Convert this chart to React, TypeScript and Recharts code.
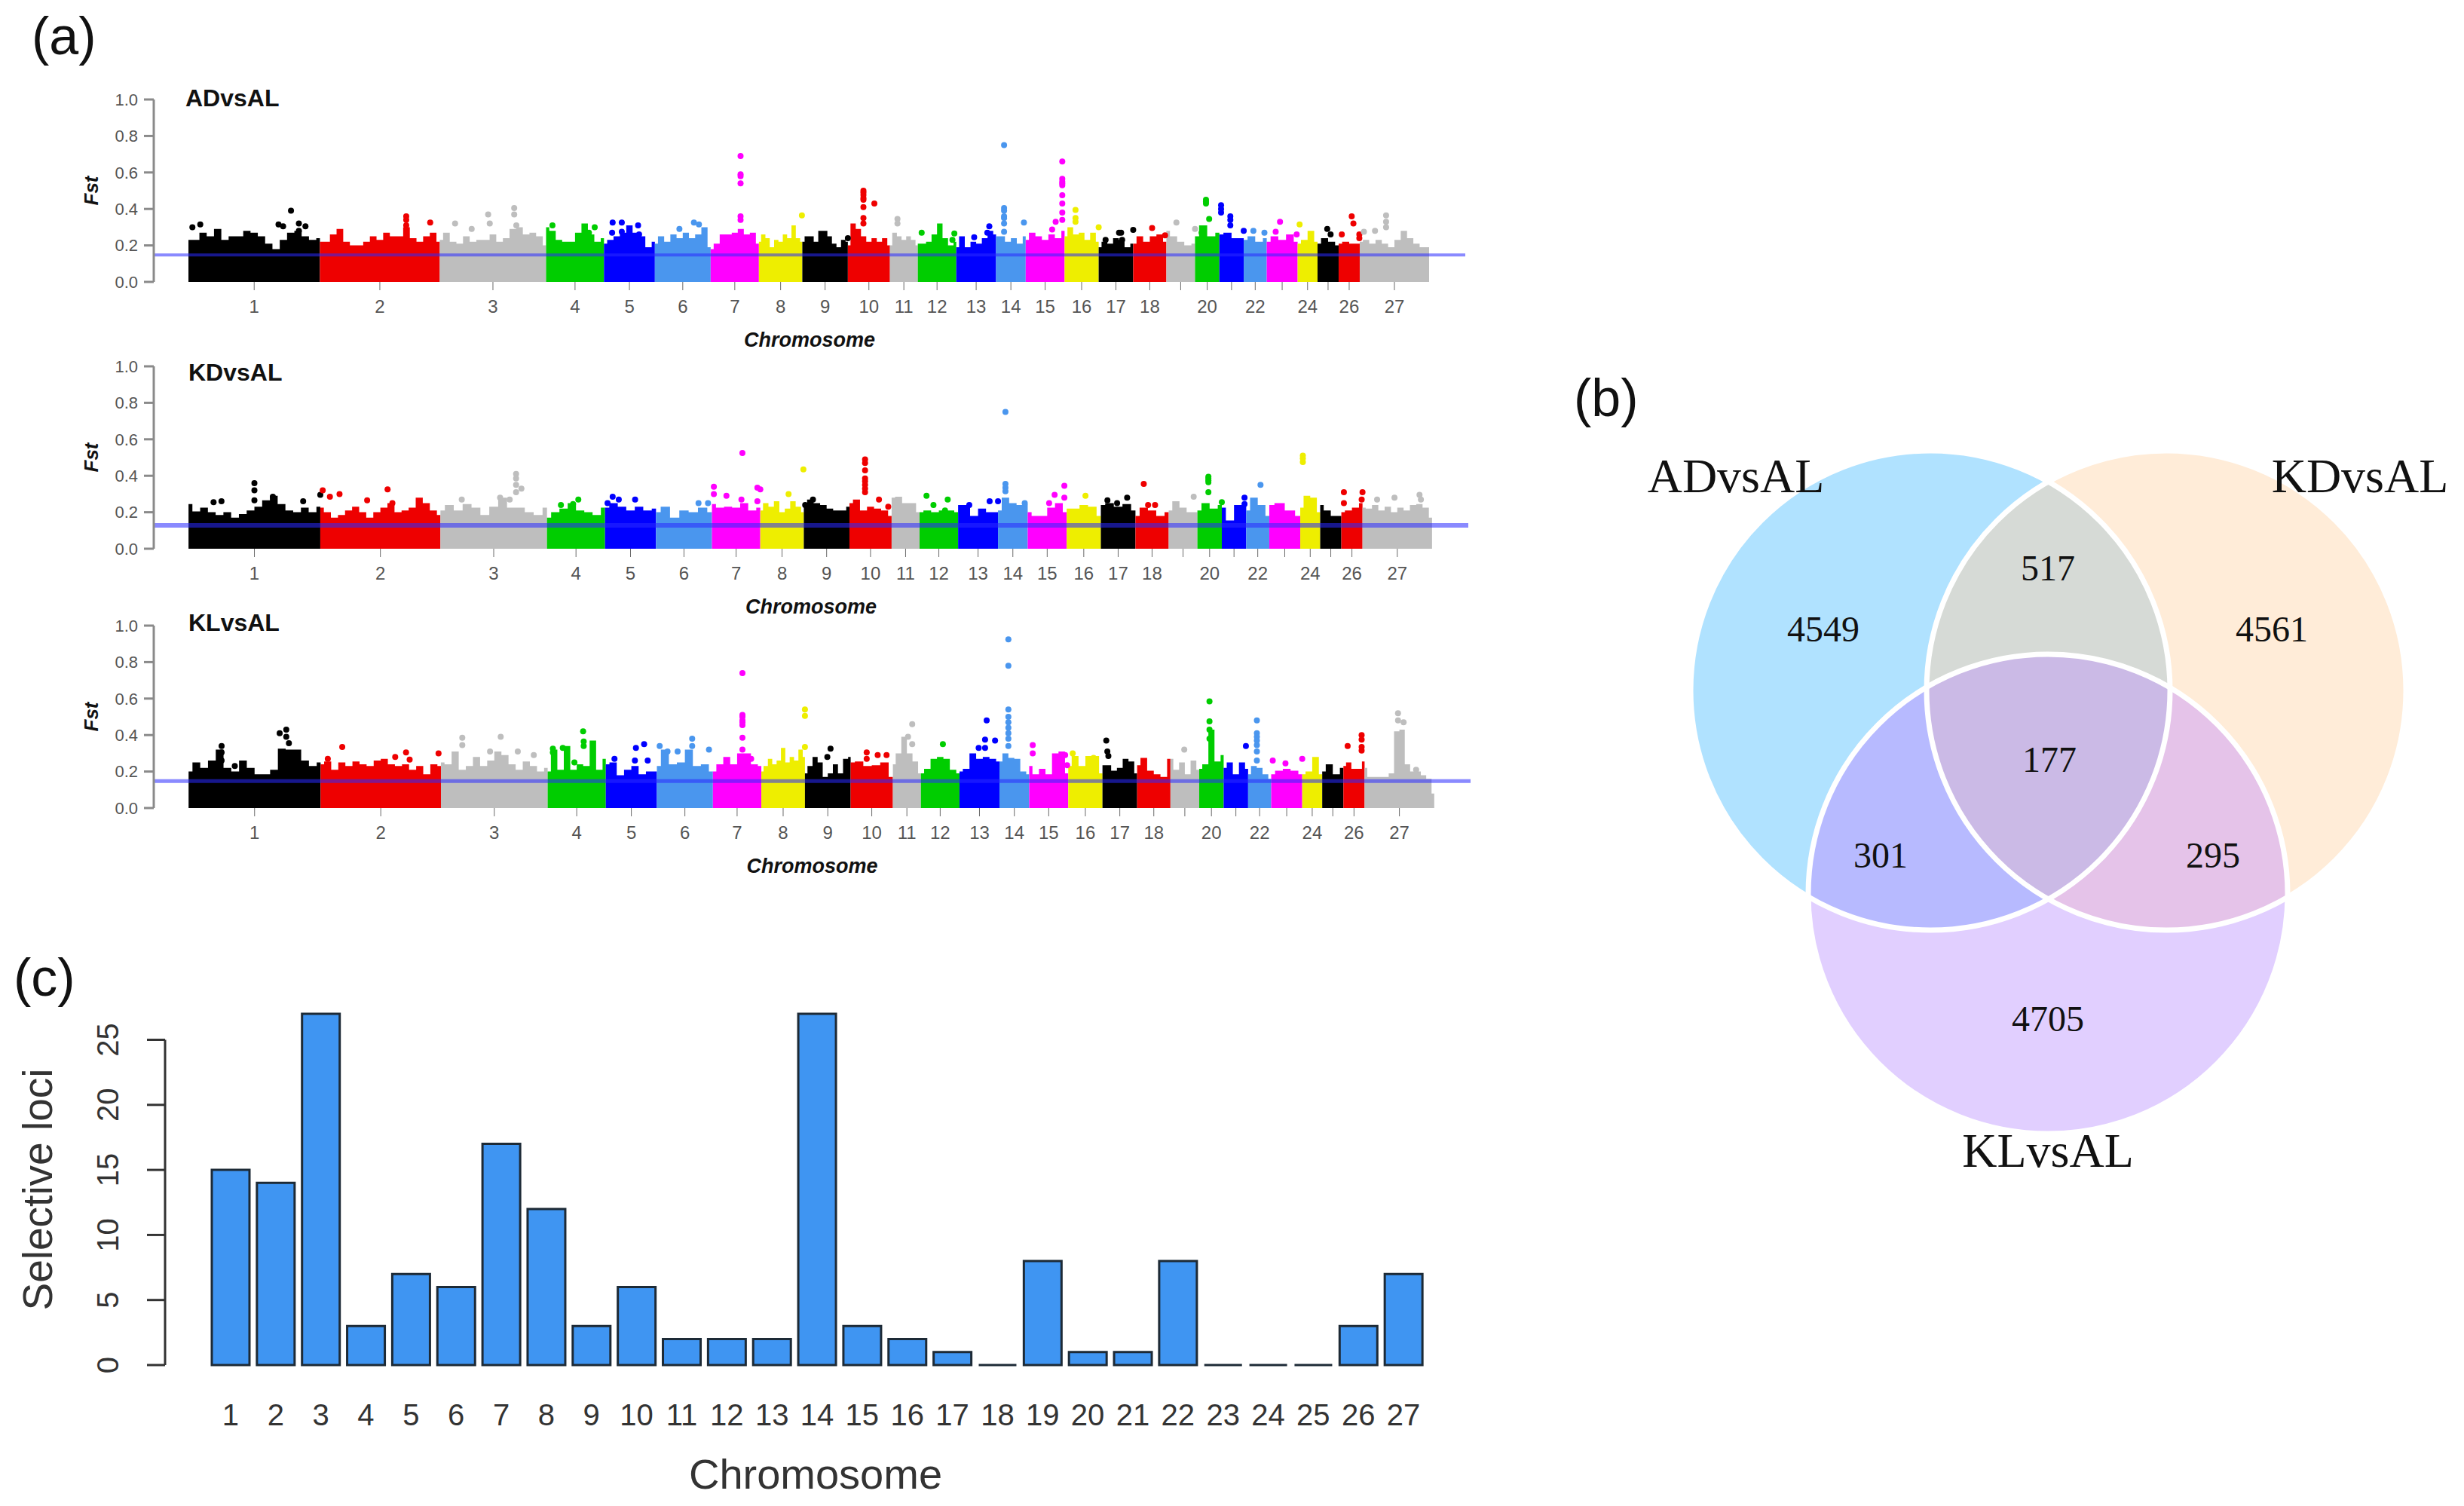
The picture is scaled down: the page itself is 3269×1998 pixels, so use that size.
import {
  Area, Bar, BarChart, ComposedChart, Label, ReferenceLine, Scatter, ScatterChart, XAxis, YAxis,
} from "recharts";

// Chromosome band colours, recycled along the genome like the R plot does
const BAND_COLORS = ["#000000", "#EE0000", "#BEBEBE", "#00CD00", "#0000FF", "#4A96EE", "#FF00FF", "#EEEE00"];

const chromNames = Array.from({ length: 27 }, (_, i) => i + 1);
const chromLengths = [174.4, 159, 141, 76.8, 67.5, 74, 64, 57.6, 60.4, 55.8, 37, 51, 52.8, 39.3, 51.6, 45.2, 45.8, 44, 38, 32.3, 32.3, 30.5, 41, 26.4, 28, 28, 92];
const unlabelledChroms = [19, 21, 23, 25];

// Upper edge of the dense Fst cloud, read along each chromosome
const adEnvelope = [
  [.23, .23, .27, .25, .29, .23, .25, .25, .28, .27, .25, .21, .18, .23, .27, .28, .25, .23, .24],
  [.22, .22, .26, .29, .22, .2, .2, .22, .25, .23, .27, .25, .25, .3, .24, .22, .25, .27, .22],
  [.23, .27, .22, .21, .25, .22, .23, .23, .26, .22, .24, .29, .3, .26, .27, .25, .2],
  [.3, .28, .23, .22, .22, .27, .32, .26, .22, .24],
  [.21, .23, .25, .27, .31, .27, .25, .19, .22],
  [.21, .25, .22, .26, .24, .27, .24, .26, .3, .19],
  [.18, .21, .26, .26, .27, .29, .26, .27, .21],
  [.22, .26, .24, .19, .23, .22, .26, .24, .31, .24, .22],
  [.22, .25, .25, .22, .28, .28, .25, .21, .19, .23, .22],
  [.2, .32, .29, .25, .22, .24, .22, .24, .2],
  [.2, .27, .25, .23, .25, .23, .2],
  [.21, .21, .22, .26, .32, .24, .2, .22],
  [.19, .25, .19, .22, .21, .24, .28, .26],
  [.25, .25, .22, .24, .21, .25],
  [.23, .27, .25, .23, .26, .24, .28],
  [.25, .3, .26, .27, .23, .27, .22],
  [.19, .22, .21, .24, .23, .19, .21],
  [.21, .25, .22, .25, .26, .22],
  [.28, .25, .22, .2, .21],
  [.25, .31, .25, .27],
  [.26, .27, .24, .24],
  [.23, .25, .22, .24],
  [.22, .25, .23, .26, .22],
  [.21, .23, .28, .22],
  [.21, .24, .22, .2],
  [.21, .22, .21, .21],
  [.22, .23, .21, .23, .21, .19, .23, .28, .24, .21, .19, .19],
];

const kdEnvelope = [
  [.245, .205, .225, .2, .185, .2, .17, .19, .21, .23, .265, .29, .245, .21, .2, .225, .2, .23],
  [.225, .2, .17, .185, .21, .23, .2, .17, .2, .225, .25, .2, .21, .225, .28, .25, .21, .185],
  [.21, .24, .21, .245, .225, .185, .23, .28, .225, .225, .2, .185, .225],
  [.17, .2, .22, .25, .21, .2, .185, .225],
  [.225, .25, .23, .21, .23, .21, .22],
  [.2, .23, .17, .21, .2, .225, .2],
  [.245, .225, .23, .225, .25, .21, .225],
  [.21, .25, .23, .26, .2, .22, .26, .23, .2],
  [.23, .27, .25, .24, .22, .21, .21, .23],
  [.25, .27, .21, .23, .22, .21, .18],
  [.28, .285, .25, .25, .2],
  [.2, .21, .2, .21, .21, .2],
  [.24, .24, .18, .22, .2, .2],
  [.21, .28, .25, .24, .245],
  [.2, .18, .18, .225, .25, .2],
  [.22, .22, .24, .23, .18],
  [.24, .25, .23, .245, .21],
  [.18, .225, .21, .18, .2],
  [.21, .26, .225, .2, .2],
  [.21, .25, .22, .24],
  [.225, .155, .24, .24],
  [.21, .28, .24, .18],
  [.24, .25, .21, .18],
  [.225, .29, .28, .2],
  [.24, .21, .18, .18],
  [.2, .21, .225, .25],
  [.225, .22, .24, .21, .23, .2, .225, .21, .24, .245, .225, .17],
];

const klEnvelope = [
  [.2, .25, .22, .26, .32, .22, .2, .26, .22, .185, .185, .21, .325, .32, .32, .26, .23, .25],
  [.24, .255, .21, .25, .23, .255, .24, .23, .26, .27, .24, .23, .24, .21, .23, .185, .24, .23],
  [.25, .24, .31, .21, .23, .28, .23, .26, .31, .29, .24, .21, .255, .23, .2, .22],
  [.2, .32, .21, .34, .21, .24, .23, .37, .21, .27],
  [.24, .25, .18, .21, .23, .185, .2, .2],
  [.23, .32, .24, .25, .32, .23, .24, .2],
  [.2, .24, .28, .24, .3, .3, .24, .23],
  [.2, .23, .27, .24, .26, .33, .25, .28, .26, .32, .28],
  [.19, .23, .28, .25, .17, .19, .24, .19, .27, .28],
  [.25, .255, .23, .235, .25, .17],
  [.24, .3, .39, .3, .255, .19],
  [.19, .215, .27, .28, .27, .21, .19],
  [.2, .215, .3, .27, .28, .27, .255],
  [.255, .3, .275, .27, .2, .185],
  [.23, .185, .215, .185, .3, .31, .19],
  [.23, .285, .23, .285, .285, .19],
  [.235, .235, .205, .22, .27, .255, .19],
  [.235, .275, .205, .185, .17, .27],
  [.27, .21, .25, .185, .26, .21],
  [.215, .24, .43, .255, .29],
  [.22, .25, .185, .25, .215],
  [.185, .23, .22, .185, .16],
  [.185, .205, .215, .205, .185],
  [.185, .2, .28, .185],
  [.2, .24, .185, .22],
  [.23, .25, .215, .215, .255],
  [.22, .17, .17, .17, .17, .19, .42, .43, .24, .2, .2, .18, .16, .08],
];

// Loci standing clear of the cloud: [chromosome, fraction along it, Fst]
const adPeaks = [
  [1, .03, .3], [1, .09, .315], [1, .78, .39], [1, .685, .315], [1, .72, .305], [1, .84, .32], [1, .89, .305], [1, .84, .28],
  [2, .72, .36], [2, .72, .34], [2, .92, .325], [2, .72, .31],
  [3, .144, .32], [3, .3, .29], [3, .455, .37], [3, .47, .32], [3, .7, .405], [3, .7, .37], [3, .72, .31],
  [4, .84, .3], [4, .74, .27], [4, .11, .31],
  [5, .17, .325], [5, .35, .325], [5, .67, .31], [5, .16, .27], [5, .35, .275], [5, .69, .26],
  [6, .44, .29], [6, .7, .325], [6, .79, .315],
  [7, .62, .69], [7, .62, .59], [7, .62, .58], [7, .62, .54], [7, .62, .36], [7, .62, .34],
  [8, .99, .365],
  [9, 1, .24],
  [10, .37, .5], [10, .37, .49], [10, .37, .476], [10, .37, .46], [10, .37, .45], [10, .37, .41], [10, .37, .35], [10, .37, .32], [10, .63, .43],
  [11, .27, .345], [11, .27, .32],
  [12, .1, .27], [12, .95, .265], [12, .9, .23],
  [13, .45, .245], [13, .83, .305], [13, .78, .27],
  [14, .27, .75], [14, .27, .405], [14, .27, .39], [14, .27, .36], [14, .27, .35], [14, .27, .32], [14, .27, .275], [14, .94, .325],
  [15, .94, .66], [15, .94, .565], [15, .94, .55], [15, .94, .54], [15, .94, .53], [15, .94, .475], [15, .94, .43], [15, .94, .38], [15, .94, .34], [15, .77, .33], [15, .68, .287],
  [16, .32, .395], [16, .32, .35], [16, .32, .33], [16, 1, .3],
  [17, .2, .23], [17, .59, .27], [17, .65, .27], [17, .68, .23], [17, 1, .285],
  [18, .57, .295], [18, .96, .255],
  [19, .35, .325], [19, 1, .29],
  [20, .45, .45], [20, .45, .44], [20, .45, .43], [20, .58, .345], [20, .27, .27],
  [21, .07, .42], [21, .07, .4], [21, .07, .38], [21, .45, .36], [21, .45, .34], [21, .45, .31], [21, 1, .28],
  [22, .42, .28], [22, .9, .27],
  [23, .43, .33], [23, .29, .275], [23, .97, .26],
  [24, .1, .315],
  [25, .46, .29], [25, .62, .26],
  [26, .62, .36], [26, .7, .32], [26, .15, .26], [26, .98, .26], [26, .98, .24],
  [27, .38, .365], [27, .38, .33], [27, .38, .3], [27, .22, .28], [27, .06, .275],
];

const kdPeaks = [
  [1, .5, .36], [1, .5, .32], [1, .5, .265], [1, .19, .255], [1, .25, .26], [1, .87, .26], [1, 1, .295], [1, .64, .285],
  [2, .02, .32], [2, .08, .285], [2, .16, .3], [2, .56, .325], [2, .39, .265], [2, .6, .25],
  [3, .71, .41], [3, .71, .385], [3, .71, .35], [3, .71, .31], [3, .76, .33], [3, .2, .27], [3, .65, .27], [3, .56, .28],
  [4, .54, .27], [4, .24, .24], [4, .45, .245],
  [5, .15, .285], [5, .27, .27], [5, .59, .27], [5, .05, .25],
  [6, .76, .25], [6, .93, .25],
  [7, .63, .525], [7, .04, .34], [7, .04, .3], [7, .3, .29], [7, .61, .27], [7, .94, .335], [7, 1, .325], [7, .94, .26],
  [8, .99, .435], [8, .65, .3],
  [9, .2, .27], [9, .03, .24],
  [10, .37, .49], [10, .37, .47], [10, .37, .43], [10, .37, .385], [10, .37, .37], [10, .37, .35], [10, .37, .33], [10, .37, .31], [10, .7, .27], [10, .92, .23],
  [12, .18, .29], [12, .36, .24], [12, .73, .27], [12, .66, .21],
  [13, .79, .26], [13, 1, .26], [13, .28, .24],
  [14, .25, .75], [14, .25, .355], [14, .25, .335], [14, .25, .315], [14, .9, .25],
  [15, .94, .345], [15, .69, .295], [15, .94, .28], [15, .55, .25],
  [16, .55, .29],
  [17, .76, .28], [17, .19, .265], [17, .47, .25],
  [18, .25, .355], [18, .38, .24], [18, .59, .24],
  [19, .87, .285],
  [20, .45, .395], [20, .45, .385], [20, .45, .375], [20, .45, .365], [20, .45, .31], [20, 1, .255],
  [21, .93, .28], [21, .93, .245],
  [22, .62, .35],
  [24, .13, .51], [24, .13, .495], [24, .13, .475],
  [26, .12, .31], [26, 1, .31], [26, .12, .25], [26, .96, .27],
  [27, .82, .295], [27, .46, .28], [27, .21, .27], [27, .84, .27],
];

const klPeaks = [
  [1, .25, .34], [1, .25, .305], [1, .25, .26], [1, .69, .41], [1, .74, .43], [1, .74, .39], [1, .76, .355], [1, .35, .23],
  [2, .18, .335], [2, .06, .27], [2, .71, .305], [2, .98, .3], [2, .62, .28], [2, .74, .265],
  [3, .2, .385], [3, .56, .39], [3, .2, .345], [3, .46, .31], [3, .72, .31], [3, .87, .29],
  [4, .61, .42], [4, .09, .325], [4, .09, .305], [4, .26, .33], [4, .62, .365], [4, .62, .34], [4, .46, .25],
  [5, .59, .33], [5, .75, .35], [5, .57, .26], [5, .82, .26], [5, .17, .27],
  [6, .05, .34], [6, .63, .38], [6, .63, .34], [6, .93, .32], [6, .19, .31], [6, .37, .31],
  [7, .61, .74], [7, .61, .51], [7, .61, .5], [7, .61, .48], [7, .61, .47], [7, .61, .455], [7, .61, .385], [7, .61, .32], [7, .79, .27],
  [8, 1, .54], [8, 1, .505], [8, 1, .335],
  [9, .56, .325], [9, .49, .28],
  [10, .38, .305], [10, .64, .29], [10, .85, .29], [10, .38, .27],
  [11, .69, .46], [11, .54, .39], [11, .69, .35],
  [12, .57, .35],
  [13, .68, .48], [13, .64, .375], [13, .89, .37], [13, .48, .33], [13, .64, .33],
  [14, .3, .925], [14, .3, .78], [14, .3, .54], [14, .3, .5], [14, .3, .47], [14, .3, .44], [14, .3, .41], [14, .3, .38], [14, .3, .34],
  [15, .09, .345], [15, .09, .3], [15, .92, .29], [15, .97, .235],
  [16, .13, .3], [16, .74, .275],
  [17, .11, .37], [17, .14, .31], [17, .17, .285],
  [19, .48, .32],
  [20, .42, .585], [20, .42, .475], [20, .42, .43], [20, .42, .38],
  [21, .91, .34],
  [22, .38, .48], [22, .38, .41], [22, .38, .39], [22, .38, .37], [22, .38, .345], [22, .38, .31], [22, .38, .26],
  [23, .05, .26], [23, .46, .245], [23, 1, .27],
  [26, .2, .34], [26, .86, .4], [26, .86, .375], [26, .86, .335], [26, .86, .315],
  [27, .48, .52], [27, .48, .48], [27, .56, .47], [27, .74, .21],
];

// Panel (c)
const selectiveLoci = [15, 14, 27, 3, 7, 6, 17, 12, 3, 6, 2, 2, 2, 27, 3, 2, 1, 0, 8, 1, 1, 8, 0, 0, 0, 3, 7];

// Panel (b)
const vennSets = ["ADvsAL", "KDvsAL", "KLvsAL"];
const vennCounts = [4549, 4561, 4705, 517, 301, 295, 177];

const chromStarts = chromLengths.map((_, i) => chromLengths.slice(0, i).reduce((a, b) => a + b, 0));
const genomeLength = chromLengths.reduce((a, b) => a + b, 0);
const chromMids = chromStarts.map((s, i) => s + chromLengths[i] / 2);

function envelopeRows(envelope: number[][]) {
  const rows: Record<string, number>[] = [];
  envelope.forEach((tops, c) => {
    tops.forEach((top, i) => {
      rows.push({ pos: chromStarts[c] + (i / (tops.length - 1)) * chromLengths[c], [`c${c}`]: top });
    });
  });
  return rows;
}

function peakRows(peaks: number[][]) {
  return peaks.map(([chr, frac, fst]) => ({
    chr,
    pos: chromStarts[chr - 1] + frac * chromLengths[chr - 1],
    fst,
  }));
}

function PeakDot({ cx, cy, payload }: any) {
  return <circle cx={cx} cy={cy} r={4} fill={BAND_COLORS[(payload.chr - 1) % 8]} />;
}

const SANS = "'Liberation Sans', Arial, sans-serif";
const SERIF = "'Liberation Serif', 'Times New Roman', serif";
const GREY = "#6a6a6a";

function Manhattan({ title, titleX, titleY, envelope, peaks, threshold, zero, plotWidth, lineWidth }: {
  title: string; titleX: number; titleY: number; envelope: number[][]; peaks: number[][];
  threshold: number; zero: number; plotWidth: number; lineWidth: number;
}) {
  const plotHeight = 242;
  const marginTop = 20;
  return (
    <>
      <div style={{ position: "absolute", left: titleX, top: titleY - 17, font: `bold 32px ${SANS}`, lineHeight: "34px", color: "#111" }}>
        {title}
      </div>
      <div style={{ position: "absolute", left: 0, top: zero - plotHeight - marginTop }}>
        <ComposedChart
          width={204 + plotWidth + 20}
          height={marginTop + plotHeight + 110}
          data={envelopeRows(envelope)}
          margin={{ top: marginTop, right: 20, bottom: 0, left: 104 }}
        >
          <XAxis
            dataKey="pos"
            type="number"
            domain={[-46, genomeLength + 48]}
            ticks={chromMids}
            interval={0}
            height={110}
            axisLine={false}
            tickSize={11}
            tickMargin={13}
            stroke={GREY}
            tick={{ fill: "#555", fontFamily: SANS, fontSize: 24 }}
            tickFormatter={(_, i) => (unlabelledChroms.includes(chromNames[i]) ? "" : String(chromNames[i]))}
          >
            <Label value="Chromosome" position="insideBottom" offset={24} fill="#111"
              style={{ fontFamily: SANS, fontSize: 27, fontWeight: 700, fontStyle: "italic" }} />
          </XAxis>
          <YAxis
            type="number"
            domain={[0, 1]}
            ticks={[0, 0.2, 0.4, 0.6, 0.8, 1]}
            width={100}
            stroke="#8a8a8a"
            strokeWidth={3}
            tickSize={13}
            tickMargin={8}
            tick={{ fill: "#555", fontFamily: SANS, fontSize: 22, strokeWidth: 0 }}
            tickFormatter={(v) => Number(v).toFixed(1)}
          >
            <Label value="Fst" angle={-90} position="insideLeft" offset={17} fill="#111"
              style={{ fontFamily: SANS, fontSize: 26, fontWeight: 700, fontStyle: "italic", textAnchor: "middle" }} />
          </YAxis>
          {chromNames.map((_, c) => (
            <Area
              key={c}
              dataKey={`c${c}`}
              type="step"
              stroke="none"
              fill={BAND_COLORS[c % 8]}
              fillOpacity={1}
              connectNulls={false}
              dot={false}
              activeDot={false}
              isAnimationActive={false}
            />
          ))}
          <Scatter data={peakRows(peaks)} dataKey="fst" shape={PeakDot} isAnimationActive={false} />
          <ReferenceLine y={threshold} stroke="#2a2aff" strokeOpacity={0.55} strokeWidth={lineWidth} />
        </ComposedChart>
      </div>
    </>
  );
}

// Venn circle centres and cell label spots, in px of the 1219 x 1100 panel
const VENN_R = 318;
const vennCentres = [[511, 416], [824, 416], [667, 686]];
const vennSetSpots = [[253, 131], [1081, 131], [667, 1026]];
const vennCountSpots = [[369, 334], [964, 334], [667, 851], [667, 253], [445, 634], [886, 634], [669, 507]];
const VENN_FILLS = ["#B0E2FF", "#FFECD8", "#E1CFFF"];
const VENN_OVERLAPS = [
  { base: 1, clips: [0], fill: "#D6DAD6" },
  { base: 2, clips: [0], fill: "#B7BAFF" },
  { base: 2, clips: [1], fill: "#E5C3E9" },
  { base: 2, clips: [0, 1], fill: "#CBBAE6" },
];

function VennDisc({ cx, cy, payload }: any) {
  return (
    <g>
      <clipPath id={`venn-clip-${payload.set}`}>
        <circle cx={cx} cy={cy} r={VENN_R} />
      </clipPath>
      <circle cx={cx} cy={cy} r={VENN_R} fill={VENN_FILLS[payload.set]} />
    </g>
  );
}

function VennOverlap({ cx, cy, payload }: any) {
  const [first, second] = payload.clips;
  const disc = <circle cx={cx} cy={cy} r={VENN_R} fill={payload.fill} clipPath={`url(#venn-clip-${first})`} />;
  return second === undefined ? disc : <g clipPath={`url(#venn-clip-${second})`}>{disc}</g>;
}

function VennRing({ cx, cy }: any) {
  return <circle cx={cx} cy={cy} r={VENN_R} fill="none" stroke="#fff" strokeWidth={7} />;
}

function VennText({ cx, cy, payload }: any) {
  return (
    <text x={cx} y={cy} textAnchor="middle" dominantBaseline="central" fill="#111" fontFamily={SERIF} fontSize={payload.size}>
      {payload.text}
    </text>
  );
}

function Venn() {
  const discs = vennCentres.map(([x, y], set) => ({ x, y, set }));
  const overlaps = VENN_OVERLAPS.map((o) => ({ x: vennCentres[o.base][0], y: vennCentres[o.base][1], clips: o.clips, fill: o.fill }));
  const setLabels = vennSets.map((text, i) => ({ x: vennSetSpots[i][0], y: vennSetSpots[i][1], text, size: 64 }));
  const countLabels = vennCounts.map((n, i) => ({ x: vennCountSpots[i][0], y: vennCountSpots[i][1], text: String(n), size: 48 }));
  return (
    <div style={{ position: "absolute", left: 2050, top: 500 }}>
      <ScatterChart width={1219} height={1100} margin={{ top: 0, right: 0, bottom: 0, left: 0 }}>
        <XAxis dataKey="x" type="number" domain={[0, 1219]} hide />
        <YAxis dataKey="y" type="number" domain={[0, 1100]} reversed hide width={0} />
        <Scatter data={discs} shape={VennDisc} isAnimationActive={false} />
        <Scatter data={overlaps} shape={VennOverlap} isAnimationActive={false} />
        <Scatter data={discs} shape={VennRing} isAnimationActive={false} />
        <Scatter data={[...setLabels, ...countLabels]} shape={VennText} isAnimationActive={false} />
      </ScatterChart>
    </div>
  );
}

function RotatedTick({ x, y, payload }: any) {
  return (
    <text x={x} y={y} transform={`rotate(-90 ${x} ${y})`} textAnchor="middle" fill="#333" fontFamily={SANS} fontSize={40}>
      {payload.value}
    </text>
  );
}

// A path rather than a rect, so the empty chromosomes still leave their flat outline
function LociBar({ x, y, width, height }: any) {
  return <path d={`M${x},${y}h${width}v${height}h${-width}Z`} fill="#3F95F2" stroke="#1d2a36" strokeWidth={3} />;
}

function SelectiveBars() {
  const rows = chromNames.map((chr, i) => ({ chr, loci: selectiveLoci[i] }));
  const marginTop = 25;
  const plotHeight = 466;
  return (
    <div style={{ position: "absolute", left: 0, top: 1345 - marginTop }}>
      <BarChart
        width={1965}
        height={marginTop + plotHeight + 178}
        data={rows}
        barSize={50}
        margin={{ top: marginTop, right: 20, bottom: 0, left: 19 }}
      >
        <XAxis
          dataKey="chr"
          interval={0}
          height={178}
          axisLine={false}
          tickLine={false}
          tickMargin={46}
          padding={{ left: 57, right: 53 }}
          tick={{ fill: "#333", fontFamily: SANS, fontSize: 40 }}
        >
          <Label value="Chromosome" position="insideBottom" offset={14} fill="#333" style={{ fontFamily: SANS, fontSize: 56 }} />
        </XAxis>
        <XAxis xAxisId="frame" type="number" domain={[0, 1]} hide />
        <YAxis
          type="number"
          domain={[0, 27]}
          ticks={[0, 5, 10, 15, 20, 25]}
          width={200}
          axisLine={false}
          tickSize={24}
          tickMargin={38}
          stroke="#333"
          strokeWidth={3}
          tick={<RotatedTick />}
        >
          <Label value="Selective loci" angle={-90} position="insideLeft" offset={30} fill="#333"
            style={{ fontFamily: SANS, fontSize: 55, textAnchor: "middle" }} />
        </YAxis>
        <Bar dataKey="loci" shape={LociBar} isAnimationActive={false} />
        <ReferenceLine xAxisId="frame" segment={[{ x: 0, y: 0 }, { x: 0, y: 25 }]} stroke="#333" strokeWidth={3} />
      </BarChart>
    </div>
  );
}

function PanelLetter({ text, x, y }: { text: string; x: number; y: number }) {
  return (
    <div style={{ position: "absolute", left: x, top: y - 40, font: `70px ${SANS}`, lineHeight: "80px", color: "#111" }}>{text}</div>
  );
}

export default function App() {
  return (
    <div style={{ position: "absolute", left: 0, top: 0, width: 3269, height: 1998, background: "#fff", overflow: "hidden" }}>
      <PanelLetter text="(a)" x={42} y={48} />
      <PanelLetter text="(b)" x={2088} y={528} />
      <PanelLetter text="(c)" x={18} y={1297} />
      <Manhattan title="ADvsAL" titleX={246} titleY={130} envelope={adEnvelope} peaks={adPeaks} threshold={0.148} zero={373.5} plotWidth={1740} lineWidth={4} />
      <Manhattan title="KDvsAL" titleX={250} titleY={494} envelope={kdEnvelope} peaks={kdPeaks} threshold={0.128} zero={727.5} plotWidth={1744} lineWidth={6} />
      <Manhattan title="KLvsAL" titleX={250} titleY={826} envelope={klEnvelope} peaks={klPeaks} threshold={0.148} zero={1071.5} plotWidth={1747} lineWidth={5} />
      <Venn />
      <SelectiveBars />
    </div>
  );
}
